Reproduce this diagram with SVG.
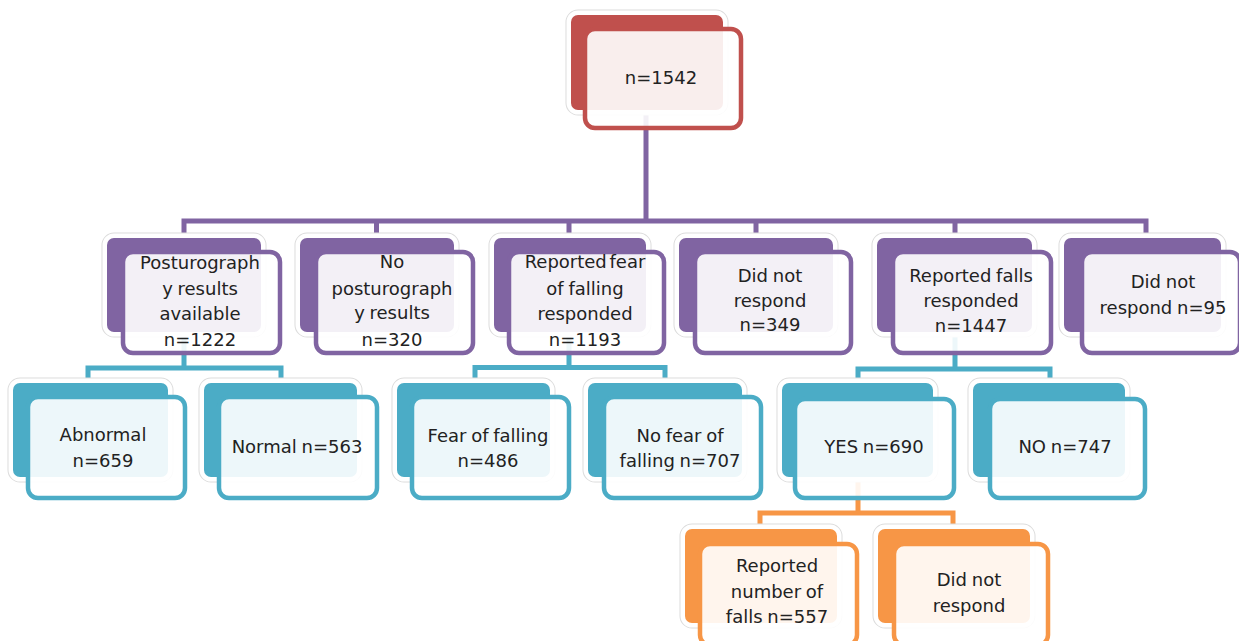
<svg xmlns="http://www.w3.org/2000/svg" width="1239" height="641" viewBox="0 0 1239 641">
<style>
.halo{fill:none;stroke:#dcdcdc;stroke-width:11}
.back{stroke:#fff;stroke-width:9;paint-order:stroke}
.front{fill:#fff;fill-opacity:0.9;stroke-width:4.5}
.r .back{fill:#C0504D}.r .front{stroke:#C0504D}
.p .back{fill:#8064A2}.p .front{stroke:#8064A2}
.t .back{fill:#4BACC6}.t .front{stroke:#4BACC6}
.o .back{fill:#F79646}.o .front{stroke:#F79646}
text{font-family:"DejaVu Sans","Liberation Sans",sans-serif;font-size:18px;fill:#222;text-anchor:middle;word-spacing:-1px}
.c{fill:none;stroke-width:5}
</style>
<g id="connectors">
<path class="c" stroke="#8064A2" d="M646,110V221M184,238V221H1146V238M376.5,221V238M569,221V238M756,221V238M955,221V238"/>
<path class="c" stroke="#4BACC6" d="M184,332V368M88,383V368H281V383"/>
<path class="c" stroke="#4BACC6" d="M569,332V367.5M475,383V367.5H665V383"/>
<path class="c" stroke="#4BACC6" d="M955,332V369M858,383V369H1050V383"/>
<path class="c" stroke="#F79646" d="M858,477V513M760,529V513H953V529"/>
</g>
<g id="n0" class="r"><rect class="halo" x="571" y="15" width="152" height="95" rx="7"/><rect class="back" x="571" y="15" width="152" height="95" rx="7"/><rect class="front" x="585" y="29" width="156" height="99" rx="10"/><text x="661" y="84">n=1542</text></g>
<g id="p1" class="p"><rect class="halo" x="107" y="238" width="154" height="94" rx="7"/><rect class="back" x="107" y="238" width="154" height="94" rx="7"/><rect class="front" x="123" y="252" width="157" height="101" rx="10"/><text x="200"><tspan x="200" y="269">Posturograph</tspan><tspan x="200" y="295">y results</tspan><tspan x="200" y="320">available</tspan><tspan x="200" y="346">n=1222</tspan></text></g>
<g id="p2" class="p"><rect class="halo" x="300" y="238" width="154" height="94" rx="7"/><rect class="back" x="300" y="238" width="154" height="94" rx="7"/><rect class="front" x="316" y="252" width="157" height="101" rx="10"/><text><tspan x="392" y="268">No</tspan><tspan x="392" y="295">posturograph</tspan><tspan x="392" y="319">y results</tspan><tspan x="392" y="346">n=320</tspan></text></g>
<g id="p3" class="p"><rect class="halo" x="494" y="238" width="152" height="94" rx="7"/><rect class="back" x="494" y="238" width="152" height="94" rx="7"/><rect class="front" x="509" y="252" width="155" height="101" rx="10"/><text><tspan x="585" y="268" style="word-spacing:-3px">Reported fear</tspan><tspan x="585" y="295">of falling</tspan><tspan x="585" y="320">responded</tspan><tspan x="585" y="346">n=1193</tspan></text></g>
<g id="p4" class="p"><rect class="halo" x="679" y="238" width="154" height="94" rx="7"/><rect class="back" x="679" y="238" width="154" height="94" rx="7"/><rect class="front" x="695" y="252" width="156" height="101" rx="10"/><text><tspan x="770" y="282">Did not</tspan><tspan x="770" y="307">respond</tspan><tspan x="770" y="331">n=349</tspan></text></g>
<g id="p5" class="p"><rect class="halo" x="877" y="238" width="155" height="94" rx="7"/><rect class="back" x="877" y="238" width="155" height="94" rx="7"/><rect class="front" x="893" y="252" width="158" height="101" rx="10"/><text><tspan x="971" y="282">Reported falls</tspan><tspan x="971" y="307">responded</tspan><tspan x="971" y="332">n=1447</tspan></text></g>
<g id="p6" class="p"><rect class="halo" x="1064" y="238" width="157" height="94" rx="7"/><rect class="back" x="1064" y="238" width="157" height="94" rx="7"/><rect class="front" x="1082" y="252" width="158" height="101" rx="10"/><text><tspan x="1163" y="288">Did not</tspan><tspan x="1163" y="314">respond n=95</tspan></text></g>
<g id="t1" class="t"><rect class="halo" x="13" y="383" width="155" height="94" rx="7"/><rect class="back" x="13" y="383" width="155" height="94" rx="7"/><rect class="front" x="28" y="397" width="157" height="101" rx="10"/><text><tspan x="103" y="441">Abnormal</tspan><tspan x="103" y="467">n=659</tspan></text></g>
<g id="t2" class="t"><rect class="halo" x="204" y="383" width="153" height="94" rx="7"/><rect class="back" x="204" y="383" width="153" height="94" rx="7"/><rect class="front" x="219" y="397" width="158" height="101" rx="10"/><text x="297" y="453">Normal n=563</text></g>
<g id="t3" class="t"><rect class="halo" x="397" y="383" width="153" height="94" rx="7"/><rect class="back" x="397" y="383" width="153" height="94" rx="7"/><rect class="front" x="412" y="397" width="157" height="101" rx="10"/><text><tspan x="488" y="442">Fear of falling</tspan><tspan x="488" y="467">n=486</tspan></text></g>
<g id="t4" class="t"><rect class="halo" x="588" y="383" width="154" height="94" rx="7"/><rect class="back" x="588" y="383" width="154" height="94" rx="7"/><rect class="front" x="604" y="397" width="157" height="101" rx="10"/><text><tspan x="680" y="442">No fear of</tspan><tspan x="680" y="467">falling n=707</tspan></text></g>
<g id="t5" class="t"><rect class="halo" x="782" y="383" width="151" height="94" rx="7"/><rect class="back" x="782" y="383" width="151" height="94" rx="7"/><rect class="front" x="795" y="399" width="159" height="99" rx="10"/><text x="874" y="453">YES n=690</text></g>
<g id="t6" class="t"><rect class="halo" x="973" y="383" width="152" height="94" rx="7"/><rect class="back" x="973" y="383" width="152" height="94" rx="7"/><rect class="front" x="990" y="399" width="155" height="99" rx="10"/><text x="1065" y="453">NO n=747</text></g>
<g id="o1" class="o"><rect class="halo" x="685" y="529" width="152" height="94" rx="7"/><rect class="back" x="685" y="529" width="152" height="94" rx="7"/><rect class="front" x="700" y="544" width="157" height="101" rx="10"/><text><tspan x="777" y="572">Reported</tspan><tspan x="777" y="598">number of</tspan><tspan x="777" y="623">falls n=557</tspan></text></g>
<g id="o2" class="o"><rect class="halo" x="878" y="529" width="152" height="94" rx="7"/><rect class="back" x="878" y="529" width="152" height="94" rx="7"/><rect class="front" x="894" y="544" width="154" height="101" rx="10"/><text><tspan x="969" y="586">Did not</tspan><tspan x="969" y="612">respond</tspan></text></g>
</svg>
